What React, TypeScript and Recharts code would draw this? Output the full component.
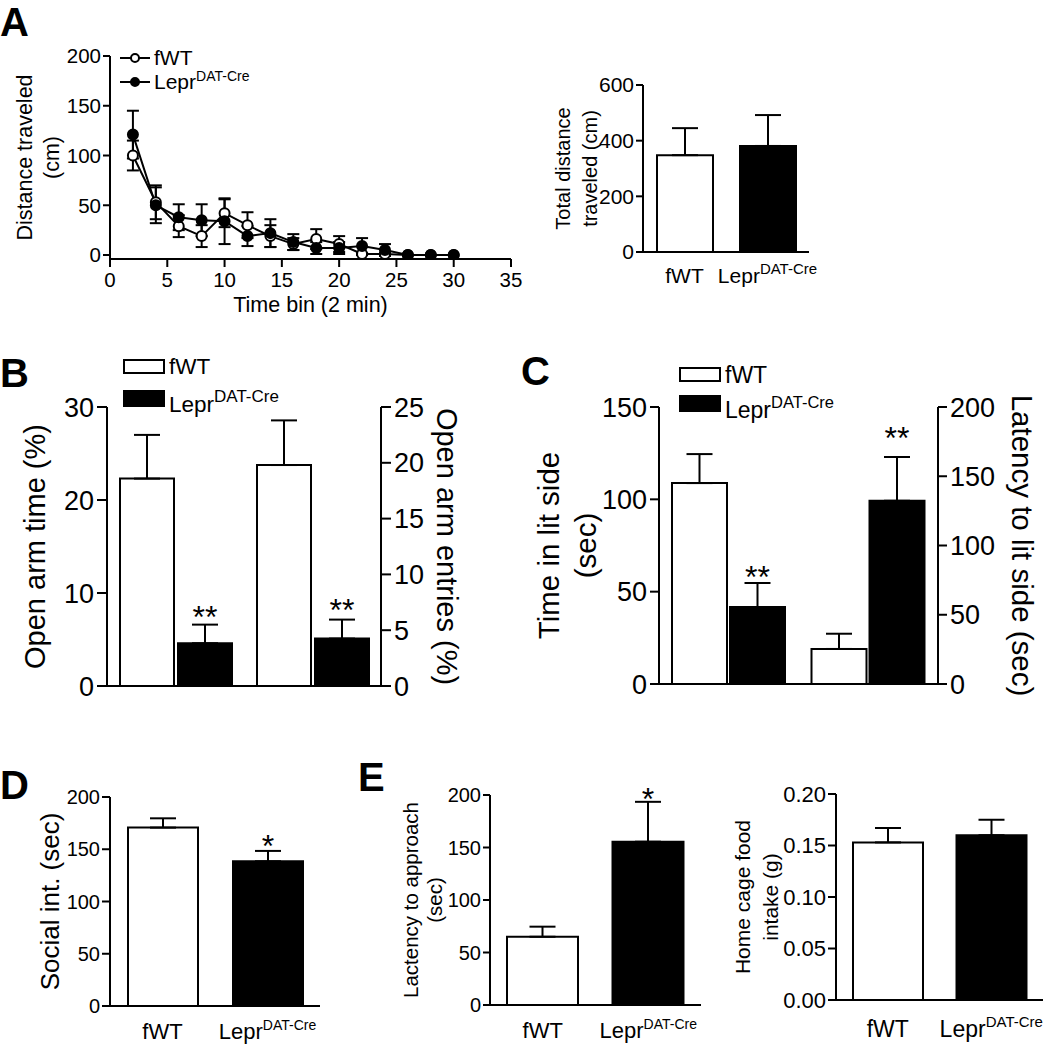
import React from "react";
import {
  Bar,
  BarChart,
  Cell,
  ErrorBar,
  LabelList,
  Legend,
  Line,
  LineChart,
  XAxis,
  YAxis,
} from "recharts";

const FONT = '"Liberation Sans", Arial, Helvetica, sans-serif';
const INK = "#000";
const PAPER = "#fff";

// genotypes, drawn white / black
const groups = ["fWT", "Lepr"];
const groupFill = [PAPER, INK];

// A: distance per 2-min bin
const timeBins = [2, 4, 6, 8, 10, 12, 14, 16, 18, 20, 22, 24, 26, 28, 30];
const fwtDistance = [100, 53, 29, 19, 42, 30, 19, 11, 16, 11, 1, 1, 0, 0, 0];
const fwtDistanceSem = [15, 17, 11, 11, 14, 13, 11, 6, 10, 8, 1, 1, 0, 0, 0];
const leprDistance = [121, 50, 38, 35, 34, 19, 22, 13, 7, 7, 9, 5, 0, 0, 0];
const leprDistanceSem = [24, 18, 13, 16, 23, 10, 14, 8, 6, 6, 8, 6, 0, 0, 0];
const timeTicks = [0, 5, 10, 15, 20, 25, 30, 35];
const distanceTicks = [0, 50, 100, 150, 200];

// A right: total distance
const totalDistance = [348, 381];
const totalDistanceSem = [97, 111];
const totalTicks = [0, 200, 400, 600];

// B: open arm time (left axis) / entries (right axis)
const mazeMeasures = ["time", "entries"];
const mazeFwt = [22.3, 19.8];
const mazeFwtSem = [4.7, 4.0];
const mazeLepr = [4.6, 4.25];
const mazeLeprSem = [2.0, 1.7];
const mazeStars = ["**", "**"];
const armTimeTicks = [0, 10, 20, 30];
const armEntryTicks = [0, 5, 10, 15, 20, 25];

// C: time in lit side (left) / latency (right)
const boxMeasures = ["time", "latency"];
const boxFwt = [108.8, 25.3];
const boxFwtSem = [15.7, 11];
const boxLepr = [41.7, 132.3];
const boxLeprSem = [13, 31.6];
const boxStars = ["**", "**"];
const litTimeTicks = [0, 50, 100, 150];
const litLatencyTicks = [0, 50, 100, 150, 200];

// D: social interaction
const socialTime = [170.7, 138.5];
const socialSem = [8.9, 9.9];
const socialStars = ["", "*"];
const socialTicks = [0, 50, 100, 150, 200];

// E: latency to approach, home cage food
const approachLatency = [65, 155.5];
const approachSem = [9.6, 38];
const approachStars = ["", "*"];
const approachTicks = [0, 50, 100, 150, 200];
const foodIntake = [0.153, 0.16];
const foodSem = [0.014, 0.015];
const foodTicks = [0, 0.05, 0.1, 0.15, 0.2];

const axisStroke = { stroke: INK, strokeWidth: 2 };

type Margin = { top: number; right: number; bottom: number; left: number };

// legend rows in genotype order, one per genotype
const legendRows = (payload: any[] | undefined) => {
  const seen = new Set<string>();
  return (payload ?? [])
    .filter((e) => groups.includes(e.value) && !seen.has(e.value) && seen.add(e.value))
    .sort((a, b) => groups.indexOf(a.value) - groups.indexOf(b.value));
};

// rotated axis title, one or two lines
const axisTitle =
  (lines: string[], xs: number[], cy: number, fontSize: number, angle = -90) =>
  () => (
    <g>
      {lines.map((line, i) => (
        <text
          key={line}
          transform={`translate(${xs[i]},${cy}) rotate(${angle})`}
          textAnchor="middle"
          dominantBaseline="central"
          fontSize={fontSize}
          fill={INK}
        >
          {line}
        </text>
      ))}
    </g>
  );

const groupTick =
  (fontSize: number, supSize: number, baseline: number) => (props: any) => {
    const { x, y, payload } = props;
    const name = payload.value;
    return (
      <text x={x} y={y + baseline} textAnchor="middle" fontSize={fontSize} fill={INK}>
        {name === "Lepr" ? (
          <>
            <tspan>Lepr</tspan>
            <tspan dy={-fontSize * 0.42} fontSize={supSize}>
              DAT-Cre
            </tspan>
          </>
        ) : (
          name
        )}
      </text>
    );
  };

// asterisks sit on the error bar cap; sem converted with the bar's own px/unit
const starLabel =
  (stars: string[], values: number[], sems: number[], fontSize: number, lift: number) =>
  (props: any) => {
    const { index } = props;
    const box = props.viewBox ?? props;
    const mark = stars[index];
    if (!mark || !values[index] || !box || !box.height) return null;
    const h = Math.abs(box.height);
    const top = Math.min(box.y, box.y + box.height);
    const capY = top - (sems[index] * h) / values[index];
    return (
      <text x={box.x + box.width / 2} y={capY + lift} textAnchor="middle" fontSize={fontSize} fill={INK}>
        {mark}
      </text>
    );
  };

const LeprName = ({ sup, lift }: { sup: number; lift: number }) => (
  <span>
    Lepr
    <span style={{ fontSize: sup, position: "relative", top: -lift }}>DAT-Cre</span>
  </span>
);

function PanelLetter({ text, left, top }: { text: string; left: number; top: number }) {
  return (
    <div style={{ position: "absolute", left, top, fontSize: 40, lineHeight: "44px", fontWeight: "bold" }}>
      {text}
    </div>
  );
}

function TimeCourse() {
  const data = timeBins.map((t, i) => ({
    t,
    fwt: fwtDistance[i],
    fwtSem: fwtDistanceSem[i],
    lepr: leprDistance[i],
    leprSem: leprDistanceSem[i],
  }));
  const margin = { top: 16, right: 19, bottom: 0, left: 0 };
  const cy = margin.top + (280 - 16 - 61) / 2;
  return (
    <div style={{ position: "absolute", left: 0, top: 40 }}>
      <LineChart width={530} height={280} data={data} margin={margin}>
        <XAxis
          dataKey="t"
          type="number"
          domain={[0, 35]}
          ticks={timeTicks}
          interval={0}
          allowDataOverflow
          height={61}
          tickSize={8}
          tickMargin={5}
          axisLine={axisStroke}
          tickLine={axisStroke}
          tick={{ fill: INK, fontSize: 20.5 }}
          label={() => (
            <text x={310.5} y={272} textAnchor="middle" fontSize={21.5} fill={INK}>
              Time bin (2 min)
            </text>
          )}
        />
        <YAxis
          domain={[-4, 200]}
          ticks={distanceTicks}
          interval={0}
          allowDataOverflow
          width={110}
          tickSize={7}
          tickMargin={2}
          axisLine={axisStroke}
          tickLine={axisStroke}
          tick={{ fill: INK, fontSize: 20.5 }}
          label={axisTitle(["Distance traveled", "(cm)"], [25, 52], cy, 21.5)}
        />
        <Legend
          layout="horizontal"
          verticalAlign="middle"
          align="center"
          wrapperStyle={{ left: 120, top: 6, width: "auto" }}
          content={(props: any) => (
            <div style={{ fontFamily: FONT }}>
              {legendRows(props.payload).map((entry: any) => (
                <div key={entry.value} style={{ display: "flex", alignItems: "center", height: 24 }}>
                  <svg width={32} height={12}>
                    <line x1={0} y1={6} x2={30} y2={6} stroke={INK} strokeWidth={2} />
                    <circle
                      cx={15}
                      cy={6}
                      r={4}
                      fill={entry.value === "fWT" ? PAPER : INK}
                      stroke={INK}
                      strokeWidth={2}
                    />
                  </svg>
                  <span style={{ fontSize: 21, marginLeft: 2 }}>
                    {entry.value === "Lepr" ? <LeprName sup={14} lift={8} /> : entry.value}
                  </span>
                </div>
              ))}
            </div>
          )}
        />
        <Line
          dataKey="fwt"
          name="fWT"
          stroke={INK}
          strokeWidth={2}
          dot={{ r: 5, fill: PAPER, stroke: INK, strokeWidth: 2 }}
          activeDot={false}
          isAnimationActive={false}
        >
          <ErrorBar dataKey="fwtSem" width={6} strokeWidth={2} stroke={INK} direction="y" />
        </Line>
        <Line
          dataKey="lepr"
          name="Lepr"
          stroke={INK}
          strokeWidth={2}
          dot={{ r: 5, fill: INK, stroke: INK, strokeWidth: 2 }}
          activeDot={false}
          isAnimationActive={false}
        >
          <ErrorBar dataKey="leprSem" width={6} strokeWidth={2} stroke={INK} direction="y" />
        </Line>
      </LineChart>
    </div>
  );
}

type PairProps = {
  left: number;
  top: number;
  width: number;
  height: number;
  margin: Margin;
  yWidth: number;
  xHeight: number;
  values: number[];
  sems: number[];
  stars?: string[];
  ticks: number[];
  digits?: number;
  title: string[];
  titleX: number[];
  titleSize: number;
  tickFont: number;
  nameFont: number;
  supFont: number;
  nameBaseline: number;
  tickLen: number;
  barSize: number;
  starFont?: number;
  starLift?: number;
};

function PairPanel(p: PairProps) {
  const data = groups.map((g, i) => ({ group: g, value: p.values[i], sem: [0, p.sems[i]] }));
  const plotH = p.height - p.margin.top - p.margin.bottom - p.xHeight;
  const cy = p.margin.top + plotH / 2;
  const fmt = (v: number) => (p.digits ? v.toFixed(p.digits) : String(v));
  return (
    <div style={{ position: "absolute", left: p.left, top: p.top }}>
      <BarChart width={p.width} height={p.height} data={data} margin={p.margin}>
        <XAxis
          dataKey="group"
          height={p.xHeight}
          interval={0}
          tickLine={false}
          tickSize={0}
          tickMargin={0}
          axisLine={axisStroke}
          tick={groupTick(p.nameFont, p.supFont, p.nameBaseline)}
        />
        <YAxis
          domain={[p.ticks[0], p.ticks[p.ticks.length - 1]]}
          ticks={p.ticks}
          interval={0}
          allowDataOverflow
          width={p.yWidth}
          tickSize={p.tickLen}
          tickMargin={2}
          axisLine={axisStroke}
          tickLine={axisStroke}
          tickFormatter={fmt}
          tick={{ fill: INK, fontSize: p.tickFont }}
          label={axisTitle(p.title, p.titleX, cy, p.titleSize)}
        />
        <Bar dataKey="value" barSize={p.barSize} stroke={INK} strokeWidth={2} isAnimationActive={false}>
          {data.map((d, i) => (
            <Cell key={d.group} fill={groupFill[i]} />
          ))}
          <ErrorBar dataKey="sem" width={13} strokeWidth={2} stroke={INK} direction="y" />
          {p.stars && (
            <LabelList
              dataKey="value"
              content={starLabel(p.stars, p.values, p.sems, p.starFont ?? 30, p.starLift ?? 5)}
            />
          )}
        </Bar>
      </BarChart>
    </div>
  );
}

type DualProps = {
  left: number;
  top: number;
  width: number;
  height: number;
  margin: Margin;
  leftWidth: number;
  rightWidth: number;
  xHeight: number;
  measures: string[];
  fwt: number[];
  fwtSem: number[];
  lepr: number[];
  leprSem: number[];
  stars: string[];
  leftTicks: number[];
  rightTicks: number[];
  leftTitle: string[];
  leftTitleX: number[];
  rightTitle: string;
  rightTitleX: number;
  titleSize: number;
  tickFont: number;
  tickLen: number;
  barSize: number;
  barGap: number;
  starFont: number;
  starLift: number;
  legendLeft: number;
  legendTop: number;
  legendRow: number;
  legendFont: number;
  legendSup: number;
};

// first measure on the left axis, second on the right axis
function DualPanel(p: DualProps) {
  const sides = ["L", "R"];
  const data = p.measures.map((m, i) => {
    const s = sides[i];
    return {
      measure: m,
      [`fwt${s}`]: p.fwt[i],
      [`fwtSem${s}`]: [0, p.fwtSem[i]],
      [`lepr${s}`]: p.lepr[i],
      [`leprSem${s}`]: [0, p.leprSem[i]],
    };
  });
  const plotH = p.height - p.margin.top - p.margin.bottom - p.xHeight;
  const cy = p.margin.top + plotH / 2;
  const yCommon = {
    interval: 0 as const,
    allowDataOverflow: true,
    tickSize: p.tickLen,
    tickMargin: 3,
    axisLine: axisStroke,
    tickLine: axisStroke,
    tick: { fill: INK, fontSize: p.tickFont },
  };
  return (
    <div style={{ position: "absolute", left: p.left, top: p.top }}>
      <BarChart
        width={p.width}
        height={p.height}
        data={data}
        margin={p.margin}
        barSize={p.barSize}
        barGap={p.barGap}
      >
        <XAxis xAxisId="L" dataKey="measure" height={p.xHeight} tick={false} tickLine={false} axisLine={axisStroke} />
        <XAxis xAxisId="R" dataKey="measure" hide />
        <YAxis
          yAxisId="L"
          orientation="left"
          width={p.leftWidth}
          domain={[0, p.leftTicks[p.leftTicks.length - 1]]}
          ticks={p.leftTicks}
          label={axisTitle(p.leftTitle, p.leftTitleX, cy, p.titleSize)}
          {...yCommon}
        />
        <YAxis
          yAxisId="R"
          orientation="right"
          width={p.rightWidth}
          domain={[0, p.rightTicks[p.rightTicks.length - 1]]}
          ticks={p.rightTicks}
          label={axisTitle([p.rightTitle], [p.rightTitleX], cy, p.titleSize, 90)}
          {...yCommon}
        />
        <Legend
          layout="horizontal"
          verticalAlign="middle"
          align="center"
          wrapperStyle={{ left: p.legendLeft, top: p.legendTop, width: "auto" }}
          content={(props: any) => (
            <div style={{ fontFamily: FONT }}>
              {legendRows(props.payload).map((entry: any) => {
                const open = entry.value === "fWT";
                return (
                  <div key={entry.value} style={{ display: "flex", alignItems: "center", height: p.legendRow }}>
                    <span
                      style={{
                        display: "inline-block",
                        width: 42,
                        height: open ? 15 : 17,
                        boxSizing: "border-box",
                        border: `2px solid ${INK}`,
                        background: open ? PAPER : INK,
                      }}
                    />
                    <span
                      style={{
                        fontSize: p.legendFont,
                        marginLeft: 4,
                        position: "relative",
                        top: open ? 1 : 7,
                      }}
                    >
                      {open ? "fWT" : <LeprName sup={p.legendSup} lift={10} />}
                    </span>
                  </div>
                );
              })}
            </div>
          )}
        />
        <Bar xAxisId="L" yAxisId="L" dataKey="fwtL" name="fWT" fill={PAPER} stroke={INK} strokeWidth={2} isAnimationActive={false}>
          <ErrorBar dataKey="fwtSemL" width={13} strokeWidth={2} stroke={INK} direction="y" />
        </Bar>
        <Bar xAxisId="L" yAxisId="L" dataKey="leprL" name="Lepr" fill={INK} stroke={INK} strokeWidth={2} isAnimationActive={false}>
          <ErrorBar dataKey="leprSemL" width={13} strokeWidth={2} stroke={INK} direction="y" />
          <LabelList dataKey="leprL" content={starLabel(p.stars, p.lepr, p.leprSem, p.starFont, p.starLift)} />
        </Bar>
        <Bar
          xAxisId="R"
          yAxisId="R"
          dataKey="fwtR"
          legendType="none"
          fill={PAPER}
          stroke={INK}
          strokeWidth={2}
          isAnimationActive={false}
        >
          <ErrorBar dataKey="fwtSemR" width={13} strokeWidth={2} stroke={INK} direction="y" />
        </Bar>
        <Bar
          xAxisId="R"
          yAxisId="R"
          dataKey="leprR"
          legendType="none"
          fill={INK}
          stroke={INK}
          strokeWidth={2}
          isAnimationActive={false}
        >
          <ErrorBar dataKey="leprSemR" width={13} strokeWidth={2} stroke={INK} direction="y" />
          <LabelList dataKey="leprR" content={starLabel(p.stars, p.lepr, p.leprSem, p.starFont, p.starLift)} />
        </Bar>
      </BarChart>
    </div>
  );
}

export default function App() {
  return (
    <div
      style={{
        position: "absolute",
        left: 0,
        top: 0,
        width: 1050,
        height: 1045,
        background: PAPER,
        color: INK,
        fontFamily: FONT,
        overflow: "hidden",
      }}
    >
      <PanelLetter text="A" left={0} top={0} />
      <PanelLetter text="B" left={0} top={351} />
      <PanelLetter text="C" left={521} top={349} />
      <PanelLetter text="D" left={0} top={763} />
      <PanelLetter text="E" left={358} top={755} />

      <TimeCourse />

      <PairPanel
        left={540}
        top={40}
        width={300}
        height={280}
        margin={{ top: 45, right: 31, bottom: 8, left: 0 }}
        yWidth={103}
        xHeight={60}
        values={totalDistance}
        sems={totalDistanceSem}
        ticks={totalTicks}
        title={["Total distance", "traveled (cm)"]}
        titleX={[23, 50]}
        titleSize={20}
        tickFont={21}
        nameFont={21}
        supFont={15}
        nameBaseline={31}
        tickLen={7}
        barSize={56}
      />

      <DualPanel
        left={0}
        top={330}
        width={480}
        height={384}
        margin={{ top: 77, right: 0, bottom: 14, left: 0 }}
        leftWidth={107}
        rightWidth={99}
        xHeight={14}
        measures={mazeMeasures}
        fwt={mazeFwt}
        fwtSem={mazeFwtSem}
        lepr={mazeLepr}
        leprSem={mazeLeprSem}
        stars={mazeStars}
        leftTicks={armTimeTicks}
        rightTicks={armEntryTicks}
        leftTitle={["Open arm time (%)"]}
        leftTitleX={[35]}
        rightTitle="Open arm entries (%)"
        rightTitleX={447}
        titleSize={29}
        tickFont={27}
        tickLen={10}
        barSize={54}
        barGap={4}
        starFont={32}
        starLift={3}
        legendLeft={123}
        legendTop={20}
        legendRow={32}
        legendFont={22.5}
        legendSup={17}
      />

      <DualPanel
        left={520}
        top={330}
        width={530}
        height={384}
        margin={{ top: 77, right: 0, bottom: 14, left: 0 }}
        leftWidth={139}
        rightWidth={112}
        xHeight={16}
        measures={boxMeasures}
        fwt={boxFwt}
        fwtSem={boxFwtSem}
        lepr={boxLepr}
        leprSem={boxLeprSem}
        stars={boxStars}
        leftTicks={litTimeTicks}
        rightTicks={litLatencyTicks}
        leftTitle={["Time in lit side", "(sec)"]}
        leftTitleX={[28, 65]}
        rightTitle="Latency to lit side (sec)"
        rightTitleX={502}
        titleSize={29.5}
        tickFont={27}
        tickLen={9}
        barSize={55}
        barGap={3}
        starFont={32}
        starLift={5}
        legendLeft={159}
        legendTop={30}
        legendRow={29}
        legendFont={23}
        legendSup={16.5}
      />

      <PairPanel
        left={0}
        top={760}
        width={360}
        height={285}
        margin={{ top: 37, right: 40, bottom: 0, left: 0 }}
        yWidth={110}
        xHeight={39}
        values={socialTime}
        sems={socialSem}
        stars={socialStars}
        ticks={socialTicks}
        title={["Social int. (sec)"]}
        titleX={[50]}
        titleSize={26}
        tickFont={20}
        nameFont={22}
        supFont={14}
        nameBaseline={33}
        tickLen={8}
        barSize={70}
        starFont={32}
        starLift={6}
      />

      <PairPanel
        left={380}
        top={760}
        width={330}
        height={285}
        margin={{ top: 35, right: 9, bottom: 0, left: 0 }}
        yWidth={110}
        xHeight={40}
        values={approachLatency}
        sems={approachSem}
        stars={approachStars}
        ticks={approachTicks}
        title={["Lactency to approach", "(sec)"]}
        titleX={[30, 54]}
        titleSize={20.5}
        tickFont={20}
        nameFont={22}
        supFont={14}
        nameBaseline={33}
        tickLen={7}
        barSize={71}
        starFont={32}
        starLift={8}
      />

      <PairPanel
        left={710}
        top={760}
        width={340}
        height={285}
        margin={{ top: 34, right: 7, bottom: 0, left: 0 }}
        yWidth={126}
        xHeight={45}
        values={foodIntake}
        sems={foodSem}
        ticks={foodTicks}
        digits={2}
        title={["Home cage food", "intake (g)"]}
        titleX={[32, 60]}
        titleSize={21}
        tickFont={22}
        nameFont={23}
        supFont={15}
        nameBaseline={37}
        tickLen={8}
        barSize={70}
      />
    </div>
  );
}
